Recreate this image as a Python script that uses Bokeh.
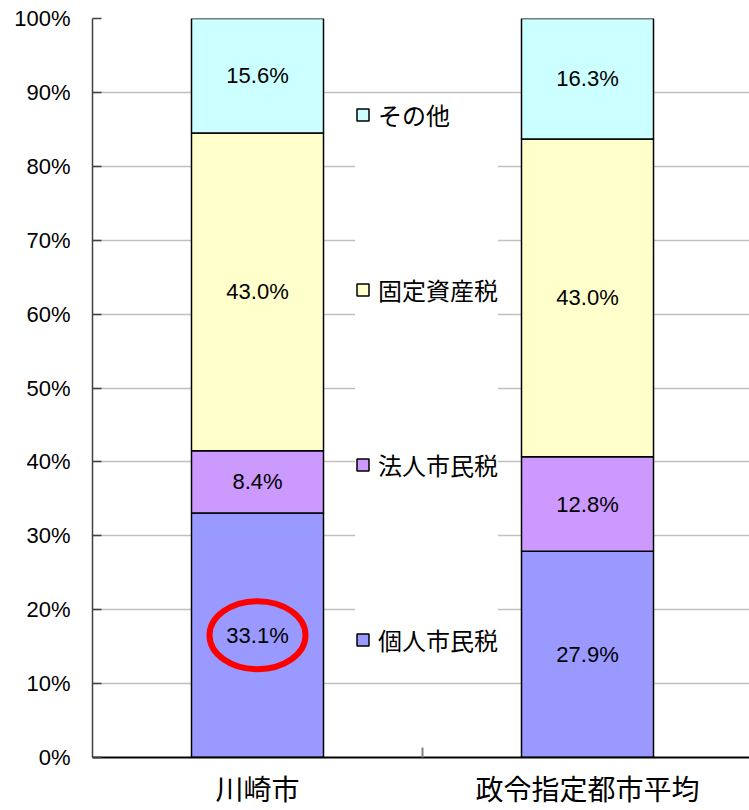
from bokeh.plotting import figure
from bokeh.models import (Range1d, LinearAxis, FixedTicker, PrintfTickFormatter,
                          Legend, LegendItem, ColumnDataSource)
from bokeh.core.properties import value
from bokeh.embed import file_html
from bokeh.resources import INLINE

# ---- data ----
categories = ["川崎市", "政令指定都市平均"]
series = ["個人市民税", "法人市民税", "固定資産税", "その他"]
kojin = [33.1, 27.9]
hojin = [8.4, 12.8]
kotei = [43.0, 43.0]
sonota = [15.6, 16.3]
colors = ["#9999FF", "#CC99FF", "#FFFFCC", "#CCFFFF"]
y_ticks = [0, 10, 20, 30, 40, 50, 60, 70, 80, 90, 100]
highlight_cat = 0      # 川崎市
highlight_series = 0   # 個人市民税

values = [kojin, hojin, kotei, sonota]
xs = [i + 0.5 for i in range(len(categories))]

LATIN = "Liberation Sans"
CJK = "Noto Sans CJK JP"

p = figure(width=749, height=810, output_backend="svg", toolbar_location=None,
           x_range=Range1d(0, 657 / 330), y_range=Range1d(0, 100),
           x_axis_type=None, min_border_left=92, min_border_right=0,
           min_border_top=18, min_border_bottom=53,
           background_fill_color="white", border_fill_color="white")
p.outline_line_color = None
p.xgrid.visible = False

src = ColumnDataSource(dict(x=xs, **{s: v for s, v in zip(series, values)}))
renderers = p.vbar_stack(series, x="x", width=0.4, source=src,
                         fill_color=colors, line_color="black", line_width=1.5)

# value labels
lx, ly, lt = [], [], []
for ci in range(len(categories)):
    base = 0.0
    for si in range(len(series)):
        v = values[si][ci]
        lx.append(xs[ci])
        ly.append(base + v / 2)
        lt.append(f"{v:.1f}%")
        base += v
p.text(x="x", y="y", text="t", source=ColumnDataSource(dict(x=lx, y=ly, t=lt)),
       text_align="center", text_baseline="middle", text_color="black",
       text_font=value(LATIN), text_font_size="22px")

# red highlight ellipse
hy = sum(values[s][highlight_cat] for s in range(highlight_series)) + values[highlight_series][highlight_cat] / 2
p.ellipse(x=[xs[highlight_cat]], y=[hy], width=96, height=68,
          width_units="screen", height_units="screen",
          fill_color=None, line_color="#FF0000", line_width=6)

# y axis
ya = p.yaxis[0]
ya.ticker = FixedTicker(ticks=y_ticks)
ya.formatter = PrintfTickFormatter(format="%d%%")
ya.major_tick_in = 9
ya.major_tick_out = 0
ya.minor_tick_line_color = None
ya.major_tick_line_color = "#404040"
ya.major_tick_line_width = 1.5
ya.axis_line_color = "#404040"
ya.axis_line_width = 1.5
ya.major_label_standoff = 22
ya.major_label_text_font = LATIN
ya.major_label_text_font_size = "22px"
ya.major_label_text_color = "black"

p.ygrid.grid_line_color = "#C0C0C0"
p.ygrid.grid_line_width = 1.5

# x axis (category labels, boundary tick)
xa = LinearAxis(ticker=FixedTicker(ticks=xs, minor_ticks=[1.0]),
                major_label_overrides={x: c for x, c in zip(xs, categories)})
xa.major_tick_line_color = None
xa.minor_tick_in = 10
xa.minor_tick_out = 0
xa.minor_tick_line_color = "#808080"
xa.minor_tick_line_width = 2
xa.axis_line_color = "black"
xa.axis_line_width = 2
xa.major_label_standoff = 4
xa.major_label_text_font = CJK
xa.major_label_text_font_size = "28px"
xa.major_label_text_color = "black"
p.add_layout(xa, "below")

# legend
items = [LegendItem(label=series[i], renderers=[renderers[i]]) for i in reversed(range(len(series)))]
legend = Legend(items=items, location=(263, 100), orientation="vertical",
                glyph_width=15, glyph_height=15, label_height=32, spacing=140,
                padding=11, label_standoff=8,
                label_text_font=CJK, label_text_font_size="24px", label_text_color="black",
                background_fill_color="white", background_fill_alpha=1.0,
                border_line_color=None)
p.add_layout(legend, "center")

open("out.html", "w").write(file_html(p, INLINE))
